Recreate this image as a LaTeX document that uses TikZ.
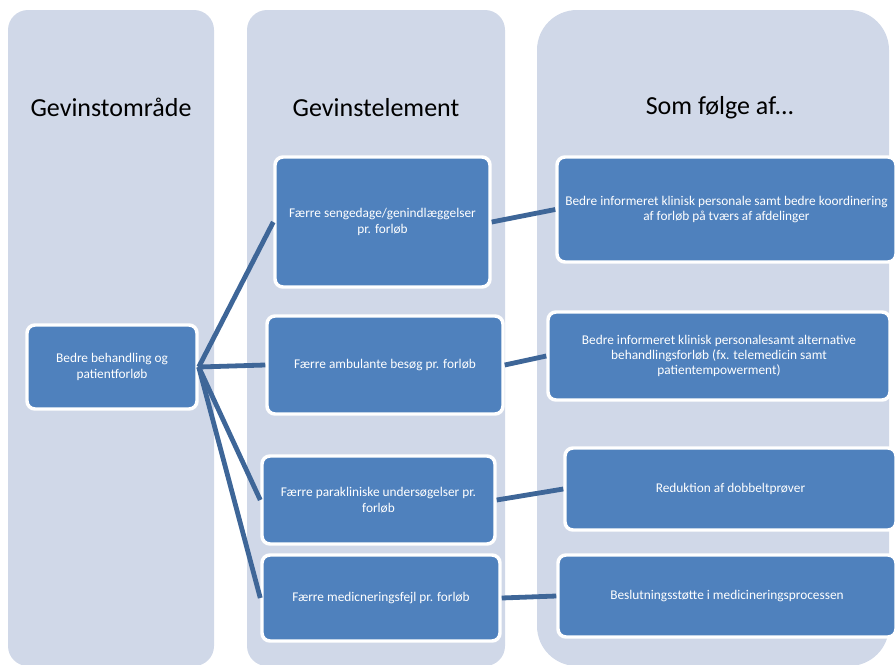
\documentclass[tikz,border=0pt]{standalone}
\usepackage{fontspec}
\setmainfont{Carlito}
\definecolor{colbg}{RGB}{208,216,232}
\definecolor{boxblue}{RGB}{79,129,189}
\definecolor{linkblue}{RGB}{62,102,152}
\begin{document}
\begin{tikzpicture}[x=0.75pt, y=-0.75pt,
	column/.style={fill=colbg, draw=none},
	head/.style={font=\fontsize{19.5}{22}\selectfont, text=black},
	gbox/.style={rectangle, rounded corners=6pt, fill=boxblue, draw=white, line width=2.6pt,
		text=white, align=center, font=\fontsize{10}{11.5}\selectfont, inner sep=2pt},
	link/.style={draw=linkblue, line width=3.6pt}]
		\useasboundingbox (0,0) rectangle (896,664);
		% columns
		\fill[column, rounded corners=15pt] (8,10) rectangle (214,666);
		\fill[column, rounded corners=15pt] (247,10) rectangle (505,666);
		\fill[column, rounded corners=30pt] (537,10) rectangle (889,666);
		\node[head] (hOmr) at (111,107) {Gevinstområde};
		\node[head] (hElm) at (376,108) {Gevinstelement};
		\node[head] (hFlg) at (720,108) {Som følge af...};
		% gevinstomraade
		\node[gbox, minimum width=127.5pt, minimum height=63pt] (omr) at (112,367) {Bedre behandling og\\patientforløb};
		% gevinstelementer
		\node[gbox, minimum width=161.25pt, minimum height=97.5pt] (el1) at (382.5,222) {Færre sengedage/genindlæggelser\\pr. forløb};
		\node[gbox, minimum width=177pt, minimum height=73.5pt] (el2) at (385,365) {Færre ambulante besøg pr. forløb};
		\node[gbox, minimum width=174.75pt, minimum height=66pt] (el3) at (378.5,500) {Færre parakliniske undersøgelser pr.\\forløb};
		\node[gbox, minimum width=178.5pt, minimum height=64.5pt] (el4) at (381,598) {Færre medicneringsfejl pr. forløb};
		% som foelge af
		\node[gbox, minimum width=254.25pt, minimum height=78.75pt] (fl1) at (726.5,209.5) {Bedre informeret klinisk personale samt bedre koordinering\\af forløb på tværs af afdelinger};
		\node[gbox, minimum width=256.5pt, minimum height=66pt] (fl2) at (719,356) {Bedre informeret klinisk personalesamt alternative\\behandlingsforløb (fx. telemedicin samt\\patientempowerment)};
		\node[gbox, minimum width=248.25pt, minimum height=61.5pt] (fl3) at (730.5,489) {Reduktion af dobbeltprøver};
		\node[gbox, minimum width=253.5pt, minimum height=61.5pt] (fl4) at (727,596) {Beslutningsstøtte i medicineringsprocessen};
		% forbindelser
		\foreach \e in {el1,el2,el3,el4}
			\draw[link] (omr.east) -- (\e.west);
		\draw[link] (el1.east) -- (fl1.west);
		\draw[link] (el2.east) -- (fl2.west);
		\draw[link] (el3.east) -- (fl3.west);
		\draw[link] (el4.east) -- (fl4.west);
\end{tikzpicture}
\end{document}
